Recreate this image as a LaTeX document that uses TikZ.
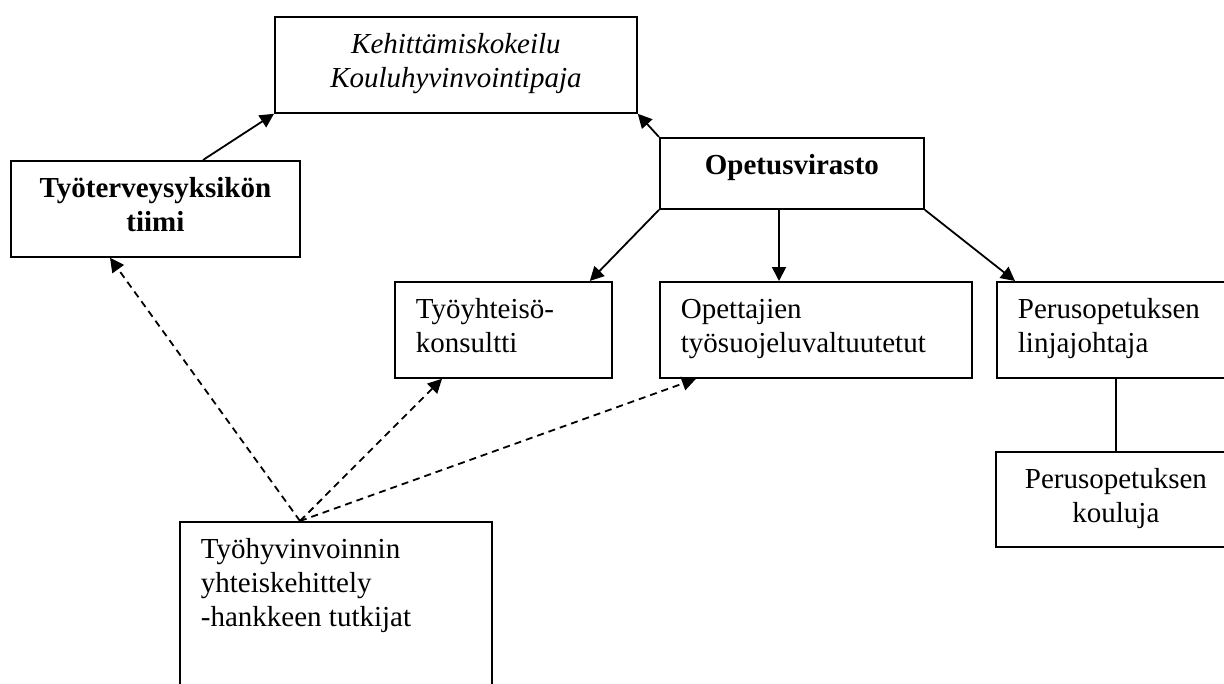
\documentclass[tikz,border=0pt]{standalone}
\usepackage{fontspec}
\setmainfont{Liberation Serif}
\usetikzlibrary{arrows.meta,calc}

% box contents: width, height, alignment/shape, lines (top aligned)
\newcommand\boxlines[4]{\parbox[c][#2][t]{#1}{#3\rule{0pt}{18.5pt}#4}}

\tikzset{
  box/.style={draw, line width=0.9pt, inner sep=0pt, anchor=north west,
    font=\fontsize{14.5pt}{17pt}\selectfont},
  lbox/.style={box, inner xsep=10.5pt},
  link/.style={line width=0.9pt, -{Triangle[length=7pt,width=7pt]}},
  dlink/.style={link, dash pattern=on 3.5pt off 2.5pt},
  plain/.style={line width=0.9pt}
}

\begin{document}
\begin{tikzpicture}[x=0.5pt, y=-0.5pt]
  \path[use as bounding box] (0,0) rectangle (1224,684);
  \clip (0,0) rectangle (1224,684);

  % boxes
  \node[box] (keh) at (274,16)
    {\boxlines{181pt}{48pt}{\centering\itshape}{Kehittämiskokeilu\\Kouluhyvinvointipaja}};
  \node[box] (tth) at (10,160)
    {\boxlines{144.5pt}{48pt}{\centering\bfseries}{Työterveysyksikön\\tiimi}};
  \node[box] (ope) at (659,137)
    {\boxlines{132pt}{35.5pt}{\centering\bfseries}{Opetusvirasto}};
  \node[lbox] (tyk) at (394,281)
    {\boxlines{87.5pt}{48pt}{\raggedright}{Työyhteisö-\\konsultti}};
  \node[lbox] (opt) at (659,281)
    {\boxlines{135pt}{48pt}{\raggedright}{Opettajien\\työsuojeluvaltuutetut}};
  \node[lbox] (plj) at (996,281)
    {\boxlines{101pt}{48pt}{\raggedright}{Perusopetuksen\\linjajohtaja}};
  \node[box] (pko) at (995,451)
    {\boxlines{120pt}{47.5pt}{\centering}{Perusopetuksen\\kouluja}};
  \node[lbox] (thv) at (179,521)
    {\boxlines{135pt}{100pt}{\raggedright}{Työhyvinvoinnin\\yhteiskehittely\\-hankkeen tutkijat}};

  % solid connectors
  \draw[link] ($(tth.north west)+(193,0)$) -- (keh.south west);
  \draw[link] (ope.north west) -- (keh.south east);
  \draw[link] (ope.south west) -- ($(tyk.north east)+(-23,0)$);
  \draw[link] ($(ope.south west)+(120,0)$) -- ($(opt.north west)+(120,0)$);
  \draw[link] (ope.south east) -- ($(plj.north west)+(19,0)$);
  \draw[plain] (pko.north |- plj.south) -- (pko.north);

  % dashed connectors from the research group
  \coordinate (hub) at ($(thv.north west)+(121,0)$);
  \draw[dlink] (hub) -- ($(tth.south west)+(100,0)$);
  \draw[dlink] (hub) -- ($(tyk.south west)+(48,0)$);
  \draw[dlink] (hub) -- ($(opt.south west)+(37,0)$);
\end{tikzpicture}
\end{document}
